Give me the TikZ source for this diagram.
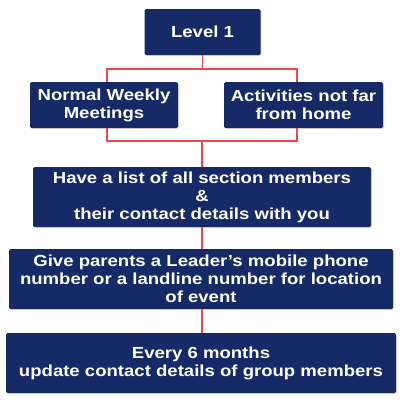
\documentclass[tikz,border=0pt]{standalone}
\usepackage{fontspec}
\setmainfont{Liberation Sans}[FakeStretch=1.16]
\usetikzlibrary{shadows}
\definecolor{navy}{RGB}{22,42,104}
\definecolor{lred}{RGB}{240,70,70}
\begin{document}
\begin{tikzpicture}[x=1pt,y=-1pt,
  box/.style={fill=navy, rounded corners=1.5pt, text=white,
    font=\bfseries\fontsize{16}{18}\selectfont, align=center, inner sep=0pt,
    drop shadow={shadow xshift=1pt, shadow yshift=-1pt, opacity=0.25}},
  link/.style={draw=lred, line width=1.2pt}]
\useasboundingbox (0,0) rectangle (400,400);
\node[box, minimum width=116pt, minimum height=46pt] (lvl) at (202.5,32) {Level 1};
\node[box, minimum width=148pt, minimum height=46pt] (nwm) at (104,105) {Normal Weekly\\Meetings};
\node[box, minimum width=159pt, minimum height=46pt] (act) at (303.5,105) {Activities not far\\from home};
\node[box, minimum width=338pt, minimum height=60pt] (list) at (202,197) {Have a list of all section members\\\&\\their contact details with you};
\node[box, minimum width=384pt, minimum height=60pt] (give) at (201,279) {Give parents a Leader’s mobile phone\\number or a landline number for location\\of event};
\node[box, minimum width=390pt, minimum height=60pt] (every) at (201,363) {Every 6 months\\update contact details of group members};
\coordinate (t) at (202.5,69);
\coordinate (b) at (202,141);
\draw[link] (lvl.south) -- (t);
\draw[link] ([xshift=3pt]nwm.north) |- (t) -| ([xshift=-6.5pt]act.north);
\draw[link] ([xshift=3pt]nwm.south) |- (b) -| ([xshift=-6.5pt]act.south);
\draw[link] (b) -- (list.north);
\draw[link] (list.south) -- (list.south |- give.north);
\draw[link] (list.south |- give.south) -- (list.south |- every.north);
\end{tikzpicture}
\end{document}
